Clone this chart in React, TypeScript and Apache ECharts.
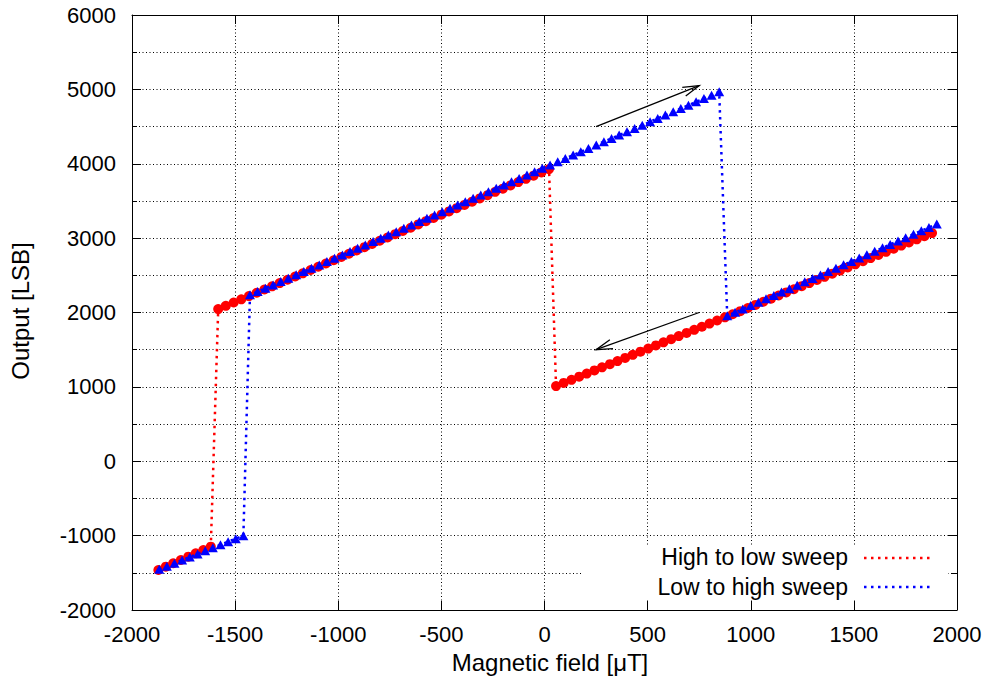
import React, { useEffect, useRef } from "react";
import * as echarts from "echarts";

// High to low sweep (red), in sweep order
const redField = [1879,1842,1805,1767,1730,1693,1656,1619,1581,1544,1507,1470,1433,1395,1358,1321,1284,1247,1209,1172,1135,1098,1061,1023,986,949,912,875,837,800,763,726,689,651,614,577,540,503,465,428,391,354,317,279,242,205,168,131,93,56,
22,-15,-53,-90,-127,-165,-202,-239,-276,-314,-351,-388,-426,-463,-500,-538,-575,-612,-649,-687,-724,-761,-799,-836,-873,-911,-948,-985,-1022,-1060,-1097,-1134,-1172,-1209,-1246,-1284,-1321,-1358,-1395,-1433,-1470,-1507,-1545,-1582,
-1618,-1654,-1691,-1727,-1763,-1800,-1836,-1872];
const redOutput = [3068,3026,2984,2942,2900,2858,2816,2774,2732,2690,2648,2606,2564,2522,2480,2438,2396,2354,2312,2270,2228,2186,2144,2102,2060,2018,1976,1935,1893,1851,1809,1767,1725,1683,1641,1599,1557,1515,1473,1431,1389,1347,1305,1263,1221,1179,1137,1095,1053,1011,
3928,3884,3840,3797,3753,3709,3665,3622,3578,3534,3490,3447,3403,3359,3315,3271,3228,3184,3140,3096,3053,3009,2965,2921,2878,2834,2790,2746,2702,2659,2615,2571,2527,2484,2440,2396,2352,2309,2265,2221,2177,2134,2090,2046,
-1148,-1193,-1238,-1283,-1328,-1372,-1417,-1462];

// Low to high sweep (blue), in sweep order
const blueField = [-1868,-1831,-1794,-1757,-1720,-1682,-1645,-1608,-1571,-1534,-1497,-1460,
-1428,-1391,-1353,-1316,-1279,-1242,-1204,-1167,-1130,-1092,-1055,-1018,-980,-943,-906,-869,-831,-794,-757,-719,-682,-645,-607,-570,-533,-496,-458,-421,-384,-346,-309,-272,-234,-197,-160,-123,-85,-48,-11,27,64,101,139,176,213,251,288,325,362,400,437,474,512,549,586,624,661,698,735,773,810,847,
886,924,961,999,1037,1074,1112,1149,1187,1225,1262,1300,1338,1375,1413,1450,1488,1526,1563,1601,1639,1676,1714,1751,1789,1827,1864,1902];
const blueOutput = [-1452,-1411,-1370,-1329,-1288,-1247,-1205,-1164,-1123,-1082,-1041,-1000,
2237,2282,2327,2371,2416,2461,2506,2550,2595,2640,2685,2729,2774,2819,2864,2908,2953,2998,3043,3087,3132,3177,3222,3266,3311,3356,3401,3445,3490,3535,3580,3624,3669,3714,3759,3803,3848,3893,3938,3982,4027,4072,4117,4161,4206,4251,4296,4340,4385,4430,4475,4519,4564,4609,4654,4698,4743,4788,4833,4877,4922,4967,
1956,2002,2047,2093,2139,2184,2230,2276,2321,2367,2413,2458,2504,2550,2595,2641,2687,2732,2778,2824,2869,2915,2961,3006,3052,3098,3143,3189];

// Arrows: [x1, y1, x2, y2] (tail -> tip)
const arrows = [
  [250, 4500, 750, 5050],
  [750, 2000, 250, 1500],
];

const seriesNames = ["High to low sweep", "Low to high sweep"];
const xTitle = "Magnetic field [\u03bcT]";
const yTitle = "Output [LSB]";

const FONT = '"Liberation Sans", Arial, Helvetica, sans-serif';
const dotted = { color: "#000", width: 1, type: [1, 2.5] as any };

export default function App() {
  const ref = useRef<HTMLDivElement>(null);
  useEffect(() => {
    if (!ref.current) return;
    const chart = echarts.init(ref.current, null, { renderer: "svg" });
    const red = redField.map((x, i) => [x, redOutput[i]]);
    const blue = blueField.map((x, i) => [x, blueOutput[i]]);
    const axisCommon = {
      axisLine: { show: true, onZero: false, lineStyle: { color: "#000", width: 1 } },
      axisTick: { show: true, inside: true, length: 9, lineStyle: { color: "#000", width: 1 } },
    };
    const fmt = (v: number) => String(v);
    chart.setOption({
      animation: false,
      grid: { left: 132, right: 33, top: 15, bottom: 76, containLabel: false },
      xAxis: [
        {
          type: "value", position: "bottom", min: -2000, max: 2000, interval: 500,
          ...axisCommon,
          axisLabel: { show: true, margin: 13, color: "#000", fontSize: 22, fontFamily: FONT, formatter: fmt },
          splitLine: { show: true, lineStyle: dotted },
        },
        {
          type: "value", position: "top", min: -2000, max: 2000, interval: 500,
          ...axisCommon,
          axisLabel: { show: false },
          splitLine: { show: false },
        },
      ],
      yAxis: [
        {
          type: "value", position: "left", min: -2000, max: 6000, interval: 1000,
          ...axisCommon,
          minorTick: { show: true, splitNumber: 2, length: 5, lineStyle: { color: "#000" } },
          minorSplitLine: { show: true, lineStyle: dotted },
          axisLabel: { show: true, margin: 16, color: "#000", fontSize: 22, fontFamily: FONT, formatter: fmt },
          splitLine: { show: true, lineStyle: dotted },
        },
        {
          type: "value", position: "right", min: -2000, max: 6000, interval: 1000,
          ...axisCommon,
          minorTick: { show: true, splitNumber: 2, length: 5, lineStyle: { color: "#000" } },
          axisLabel: { show: false },
          splitLine: { show: false },
        },
      ],
      series: [
        {
          name: seriesNames[0], type: "line", data: red, xAxisIndex: 0, yAxisIndex: 0,
          symbol: "circle", symbolSize: 10, showAllSymbol: true,
          itemStyle: { color: "#ff0000" },
          lineStyle: { color: "#ff0000", width: 2.5, type: [2.5, 4.5] as any },
          z: 3,
        },
        {
          name: seriesNames[1], type: "line", data: blue, xAxisIndex: 0, yAxisIndex: 0,
          symbol: "triangle", symbolSize: [10, 9], showAllSymbol: true,
          itemStyle: { color: "#0000ff" },
          lineStyle: { color: "#0000ff", width: 2.5, type: [2.5, 4.5] as any },
          z: 4,
        },
        {
          type: "custom", data: arrows, xAxisIndex: 0, yAxisIndex: 0, z: 5,
          encode: { x: [0, 2], y: [1, 3] },
          renderItem: (params: any, api: any) => {
            const p1 = api.coord([api.value(0), api.value(1)]);
            const p2 = api.coord([api.value(2), api.value(3)]);
            const ang = Math.atan2(p1[1] - p2[1], p1[0] - p2[0]);
            const L = 17, h = (16 * Math.PI) / 180;
            const a = [p2[0] + L * Math.cos(ang + h), p2[1] + L * Math.sin(ang + h)];
            const b = [p2[0] + L * Math.cos(ang - h), p2[1] + L * Math.sin(ang - h)];
            return {
              type: "group",
              children: [
                { type: "line", shape: { x1: p1[0], y1: p1[1], x2: p2[0], y2: p2[1] }, style: { stroke: "#000", lineWidth: 1.3 } },
                { type: "polyline", shape: { points: [a, p2, b] }, style: { stroke: "#000", fill: null, lineWidth: 1.3 } },
              ],
            };
          },
        },
      ],
      graphic: [
        { type: "rect", z: 1, shape: { x: 581, y: 545, width: 367, height: 55 }, style: { fill: "#fff" } },
        { type: "text", z: 6, x: 848, y: 557, style: { text: seriesNames[0], fill: "#000", font: `23px ${FONT}`, align: "right", verticalAlign: "middle" } },
        { type: "text", z: 6, x: 848, y: 587, style: { text: seriesNames[1], fill: "#000", font: `23px ${FONT}`, align: "right", verticalAlign: "middle" } },
        { type: "line", z: 6, shape: { x1: 864, y1: 558, x2: 930, y2: 558 }, style: { stroke: "#ff0000", lineWidth: 2.5, lineDash: [2.5, 4.5] } },
        { type: "line", z: 6, shape: { x1: 864, y1: 587, x2: 930, y2: 587 }, style: { stroke: "#0000ff", lineWidth: 2.5, lineDash: [2.5, 4.5] } },
        { type: "text", z: 6, x: 550, y: 662, style: { text: xTitle, fill: "#000", font: `24px ${FONT}`, align: "center", verticalAlign: "middle" } },
        { type: "text", z: 6, x: 20, y: 311, rotation: Math.PI / 2, style: { text: yTitle, fill: "#000", font: `24px ${FONT}`, align: "center", verticalAlign: "middle" } },
      ],
    });
    return () => chart.dispose();
  }, []);
  return (
    <div
      ref={ref}
      style={{ position: "fixed", left: 0, top: 0, width: 990, height: 686, background: "#fff" }}
    />
  );
}
